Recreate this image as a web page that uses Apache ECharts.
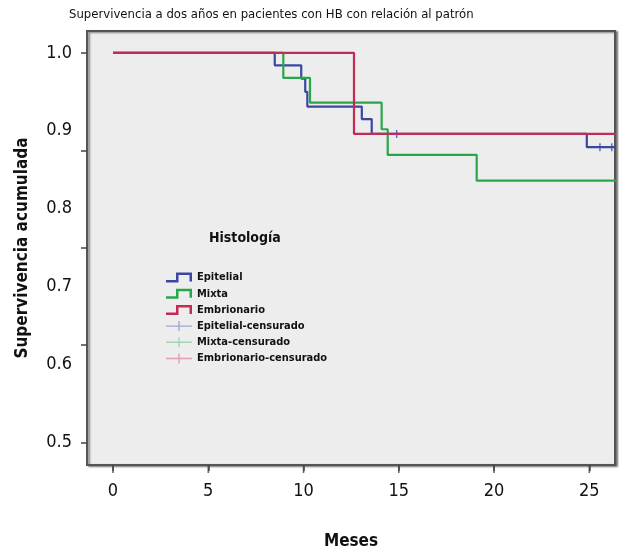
<!DOCTYPE html>
<html>
<head>
<meta charset="utf-8">
<script src="https://cdn.jsdelivr.net/npm/echarts@6/dist/echarts.min.js"></script>
<style>
html,body{margin:0;padding:0;background:#fff;}
#chart{width:619px;height:555px;}
</style>
</head>
<body>
<div id="chart"></div>
<script>
// ---- data ----
const seriesNames = ['Epitelial', 'Mixta', 'Embrionario'];
const censorNames = ['Epitelial-censurado', 'Mixta-censurado', 'Embrionario-censurado'];
// [month, cumulative survival]
const epitelial = [[0,1],[8.49,0.984],[9.88,0.967],[10.09,0.950],[10.2,0.931],[13.06,0.915],[13.58,0.896],[24.87,0.879],[26.4,0.879]];
const mixta = [[0,1],[8.94,0.968],[10.34,0.936],[14.1,0.902],[14.42,0.869],[19.09,0.836],[26.4,0.836]];
const embrionario = [[0,1],[12.65,0.896],[26.4,0.896]];
const epitelialCens = [[14.89,0.896],[25.56,0.879],[26.18,0.879]];
const mixtaCens = [];
const embrionarioCens = [];
const xTickValues = [0,5,10,15,20,25];
const yLabelValues = [0.5,0.6,0.7,0.8,0.9,1.0];
const yTickValues = [0.5,0.625,0.75,0.875,1.0];

const X_MIN = -1.365, X_MAX = 26.35, Y_MIN = 0.4713, Y_MAX = 1.028;
const FONT = "'Liberation Sans Narrow','DejaVu Sans Condensed','Roboto Condensed',sans-serif";
const C_BLUE = '#3a48a0', C_GREEN = '#2aa64a', C_RED = '#c12c55';
const C_BLUE_L = '#8f98d0', C_GREEN_L = '#8fd09e', C_RED_L = '#e08aa2';

const stepIcon = 'path://M0,7.5 L10,7.5 L10,0 L26,0 L26,9 L23.5,9 L23.5,2.5 L12.5,2.5 L12.5,10 L0,10 Z';
const plusIcon = 'path://M0,4.3 L26,4.3 L26,5.7 L0,5.7 Z M12.3,0 L13.7,0 L13.7,10 L12.3,10 Z';
const plusSymbol = 'path://M-0.7,-4 L0.7,-4 L0.7,-0.7 L4,-0.7 L4,0.7 L0.7,0.7 L0.7,4 L-0.7,4 L-0.7,0.7 L-4,0.7 L-4,-0.7 L-0.7,-0.7 Z';

const chart = echarts.init(document.getElementById('chart'));
const lineSeries = (name, data, color) => ({
  name, type: 'line', data, step: 'end', showSymbol: false, symbol: 'none',
  lineStyle: {color, width: 2.2}, itemStyle: {color}, animation: false, silent: true
});
const censSeries = (name, data, color) => ({
  name, type: 'scatter', data, symbol: plusSymbol, symbolSize: 8,
  itemStyle: {color}, animation: false, silent: true
});

chart.setOption({
  animation: false,
  title: [
    {text: 'Supervivencia a dos años en pacientes con HB con relación al patrón', left: 64, top: 3,
     textStyle: {fontFamily: FONT, fontSize: 13, fontWeight: 'normal', color: '#111'}},
    {text: 'Histología', left: 204, top: 226,
     textStyle: {fontFamily: FONT, fontSize: 14, fontWeight: 'bold', color: '#111'}}
  ],
  legend: {
    orient: 'vertical', left: 161, top: 267, itemWidth: 26, itemHeight: 10, itemGap: 5.2,
    textStyle: {fontFamily: FONT, fontSize: 11, fontWeight: 'bold', color: '#111'},
    selectedMode: false,
    data: [
      {name: seriesNames[0], icon: stepIcon, itemStyle: {color: C_BLUE, borderWidth: 0}, lineStyle: {width: 0}},
      {name: seriesNames[1], icon: stepIcon, itemStyle: {color: C_GREEN, borderWidth: 0}, lineStyle: {width: 0}},
      {name: seriesNames[2], icon: stepIcon, itemStyle: {color: C_RED, borderWidth: 0}, lineStyle: {width: 0}},
      {name: censorNames[0], icon: plusIcon, itemStyle: {color: C_BLUE_L, borderWidth: 0}},
      {name: censorNames[1], icon: plusIcon, itemStyle: {color: C_GREEN_L, borderWidth: 0}},
      {name: censorNames[2], icon: plusIcon, itemStyle: {color: C_RED_L, borderWidth: 0}}
    ]
  },
  grid: {
    left: 87, right: 4, top: 31, bottom: 83, show: true, z: -1,
    backgroundColor: '#ededed', borderColor: '#555', borderWidth: 2,
    shadowColor: 'rgba(0,0,0,0.45)', shadowBlur: 2, shadowOffsetX: 2, shadowOffsetY: 1
  },
  xAxis: {
    type: 'value', min: X_MIN, max: X_MAX, position: 'bottom', splitLine: {show: false},
    name: 'Meses', nameLocation: 'middle', nameGap: 68,
    nameTextStyle: {fontFamily: FONT, fontSize: 17, fontWeight: 'bold', color: '#111'},
    axisLine: {show: true, onZero: false, lineStyle: {color: '#555', width: 2}},
    axisTick: {show: true, inside: false, length: 6, customValues: xTickValues, lineStyle: {color: '#444', width: 1.5}},
    axisLabel: {customValues: xTickValues, margin: 17, fontFamily: FONT, fontSize: 18, color: '#111'}
  },
  yAxis: {
    type: 'value', min: Y_MIN, max: Y_MAX, position: 'left',
    name: 'Supervivencia acumulada', nameLocation: 'middle', nameGap: 56,
    nameTextStyle: {fontFamily: FONT, fontSize: 17, fontWeight: 'bold', color: '#111'},
    axisLine: {show: true, onZero: false, lineStyle: {color: '#555', width: 2}},
    axisTick: {show: true, inside: false, length: 6, customValues: yTickValues, lineStyle: {color: '#444', width: 1.5}},
    axisLabel: {customValues: yLabelValues, margin: 15, fontFamily: FONT, fontSize: 18, color: '#111',
      formatter: v => v.toFixed(1)},
    splitLine: {show: false}
  },
  series: [
    lineSeries(seriesNames[0], epitelial, C_BLUE),
    lineSeries(seriesNames[1], mixta, C_GREEN),
    lineSeries(seriesNames[2], embrionario, C_RED),
    censSeries(censorNames[0], epitelialCens, C_BLUE),
    censSeries(censorNames[1], mixtaCens, C_GREEN),
    censSeries(censorNames[2], embrionarioCens, C_RED),
    {
      name: 'xTicks', type: 'scatter', silent: true, clip: false, z: 10,
      data: xTickValues.map(v => [v, Y_MIN]),
      symbol: 'rect', symbolSize: [1.6, 7], symbolOffset: [0, 4.5],
      itemStyle: {color: '#444'}
    }
  ]
});
</script>
</body>
</html>
